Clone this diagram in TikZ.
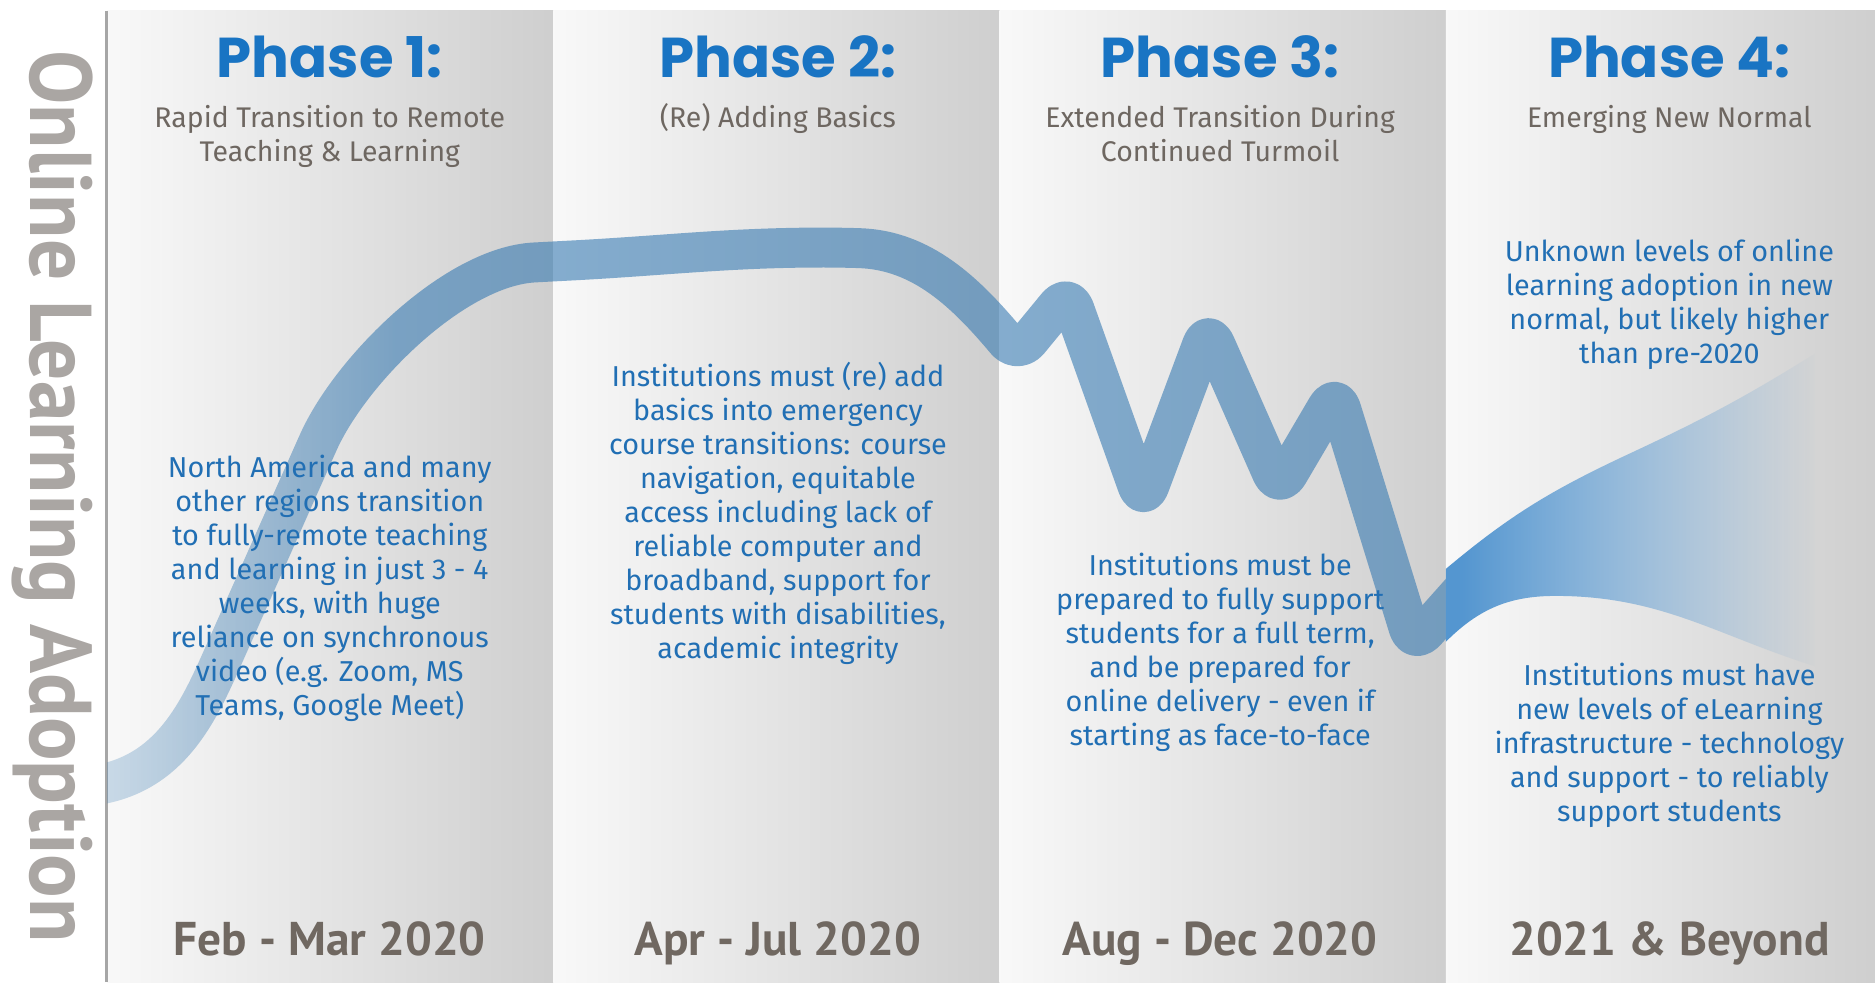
\documentclass[tikz,border=0pt]{standalone}
\usepackage{fontspec}
\usepackage{graphicx}
\setmainfont{Fira Sans}
\newfontfamily\titrefont{Poppins}
\newfontfamily\etroite{PT Sans}
\usetikzlibrary{fadings}

\definecolor{bleuphase}{RGB}{25,116,195}
\definecolor{bleutexte}{RGB}{33,111,180}
\definecolor{grissous}{RGB}{110,103,97}
\definecolor{grisdate}{RGB}{112,104,97}
\definecolor{grisaxe}{RGB}{170,166,163}
\definecolor{bleuruban}{RGB}{55,122,178}
\definecolor{bleuevent}{RGB}{84,150,208}

% Fondus (coordonnees decalees de (9.5,5))
\begin{tikzfadingfrompicture}[name=fonduruban]
  \fill[transparent!60] (-9.5,-5) rectangle (-8.45,5);
  \shade[left color=transparent!60, right color=transparent!0] (-8.5,-5) rectangle (-5.55,5);
  \fill[transparent!0] (-5.6,-5) rectangle (9.5,5);
\end{tikzfadingfrompicture}
\begin{tikzfadingfrompicture}[name=fonduevent]
  \fill[transparent!0] (-9.5,-5) rectangle (5.15,5);
  \shade[left color=transparent!0, right color=transparent!100] (5.1,-5) rectangle (8.7,5);
  \fill[transparent!100] (8.65,-5) rectangle (9.5,5);
\end{tikzfadingfrompicture}

\begin{document}
\begin{tikzpicture}

  % Styles
  \tikzstyle{panneau} = [left color=gray!5, right color=gray!38]
  \tikzstyle{titre} = [anchor=base, text=bleuphase, font=\titrefont\bfseries\fontsize{16}{19}\selectfont]
  \tikzstyle{soustitre} = [anchor=base, align=center, text=grissous, font=\fontsize{8.1}{9.7}\selectfont]
  \tikzstyle{texte} = [anchor=base, align=center, text=bleutexte, font=\fontsize{8.2}{9.7}\selectfont]
  \tikzstyle{periode} = [anchor=base, text=grisdate, font=\etroite\bfseries\fontsize{13.5}{15}\selectfont]
  \tikzstyle{ruban} = [line width=4mm, bleuruban, draw opacity=0.6, line join=round, rounded corners=1.8mm]
  \tikzstyle{fondu} = [fit fading=false, fading transform={shift={(9.5,5)}}]

  % Fond et panneaux
  \fill[white] (0,0) rectangle (18.75,9.84);
  \shade[panneau] (1.04,0) rectangle (5.51,9.73);
  \shade[panneau] (5.51,0) rectangle (9.98,9.73);
  \shade[panneau] (9.98,0) rectangle (14.45,9.73);
  \shade[panneau] (14.45,0) rectangle (18.75,9.73);

  % Axe vertical
  \draw[gray!70, line width=0.35mm] (1.035,0) -- (1.035,9.73);
  \draw (0.27,4.865) node[rotate=-90, anchor=base, text=grisaxe, font=\etroite\bfseries\fontsize{25}{25}\selectfont] (axe) {\scalebox{0.926}[1]{Online Learning Adoption}};

  % Ruban
  \begin{scope}
    \clip (1.04,0) rectangle (14.45,9.84);
    \draw[ruban, fondu, path fading=fonduruban]
      (0.9,1.97) to[out=8,in=246] (2.28,3.44) -- (3.08,5.24)
      to[out=66,in=183,looseness=0.8] (5.50,7.22) to[out=3,in=180] (8.40,7.36)
      to[out=-2,in=130] (10.16,6.29) -- (10.67,6.91) -- (11.42,4.81) -- (12.07,6.55)
      -- (12.78,4.94) -- (13.35,5.91) -- (14.13,3.38) -- (14.70,4.02);
  \end{scope}

  % Eventail
  \fill[bleuevent, fondu, path fading=fonduevent] (14.45,4.14) to[out=40,in=205] (16.30,5.30)
    to[out=25,in=212] (18.20,6.33) -- (18.30,3.12) to[out=164,in=0] (15.55,3.87)
    to[out=180,in=45] (14.45,3.41) -- cycle;

  % Titres
  \draw (3.27,9.06) node[titre] (titre1) {Phase 1:};
  \draw (7.76,9.06) node[titre] (titre2) {Phase 2:};
  \draw (12.19,9.06) node[titre] (titre3) {Phase 3:};
  \draw (16.69,9.06) node[titre] (titre4) {Phase 4:};

  % Sous-titres (base = derniere ligne)
  \draw (3.27,8.22) node[soustitre] (sous1) {Rapid Transition to Remote\\Teaching \& Learning};
  \draw (7.76,8.56) node[soustitre] (sous2) {(Re) Adding Basics};
  \draw (12.19,8.22) node[soustitre] (sous3) {Extended Transition During\\Continued Turmoil};
  \draw (16.69,8.56) node[soustitre] (sous4) {Emerging New Normal};

  % Textes
  \draw (3.27,2.67) node[texte] (texte1) {North America and many\\other regions transition\\to fully-remote teaching\\and learning in just 3 - 4\\weeks, with huge\\reliance on synchronous\\video (e.g. Zoom, MS\\Teams, Google Meet)};
  \draw (7.76,3.24) node[texte] (texte2) {Institutions must (re) add\\basics into emergency\\course transitions: course\\navigation, equitable\\access including lack of\\reliable computer and\\broadband, support for\\students with disabilities,\\academic integrity};
  \draw (12.19,2.37) node[texte] (texte3) {Institutions must be\\prepared to fully support\\students for a full term,\\and be prepared for\\online delivery - even if\\starting as face-to-face};
  \draw (16.69,6.20) node[texte] (texte4) {Unknown levels of online\\learning adoption in new\\normal, but likely higher\\than pre-2020};
  \draw (16.69,1.61) node[texte] (texte5) {Institutions must have\\new levels of eLearning\\infrastructure - technology\\and support - to reliably\\support students};

  % Periodes
  \draw (3.27,0.27) node[periode] (date1) {Feb - Mar 2020};
  \draw (7.76,0.27) node[periode] (date2) {Apr - Jul 2020};
  \draw (12.19,0.27) node[periode] (date3) {Aug - Dec 2020};
  \draw (16.69,0.27) node[periode] (date4) {2021 \& Beyond};

\end{tikzpicture}
\end{document}
